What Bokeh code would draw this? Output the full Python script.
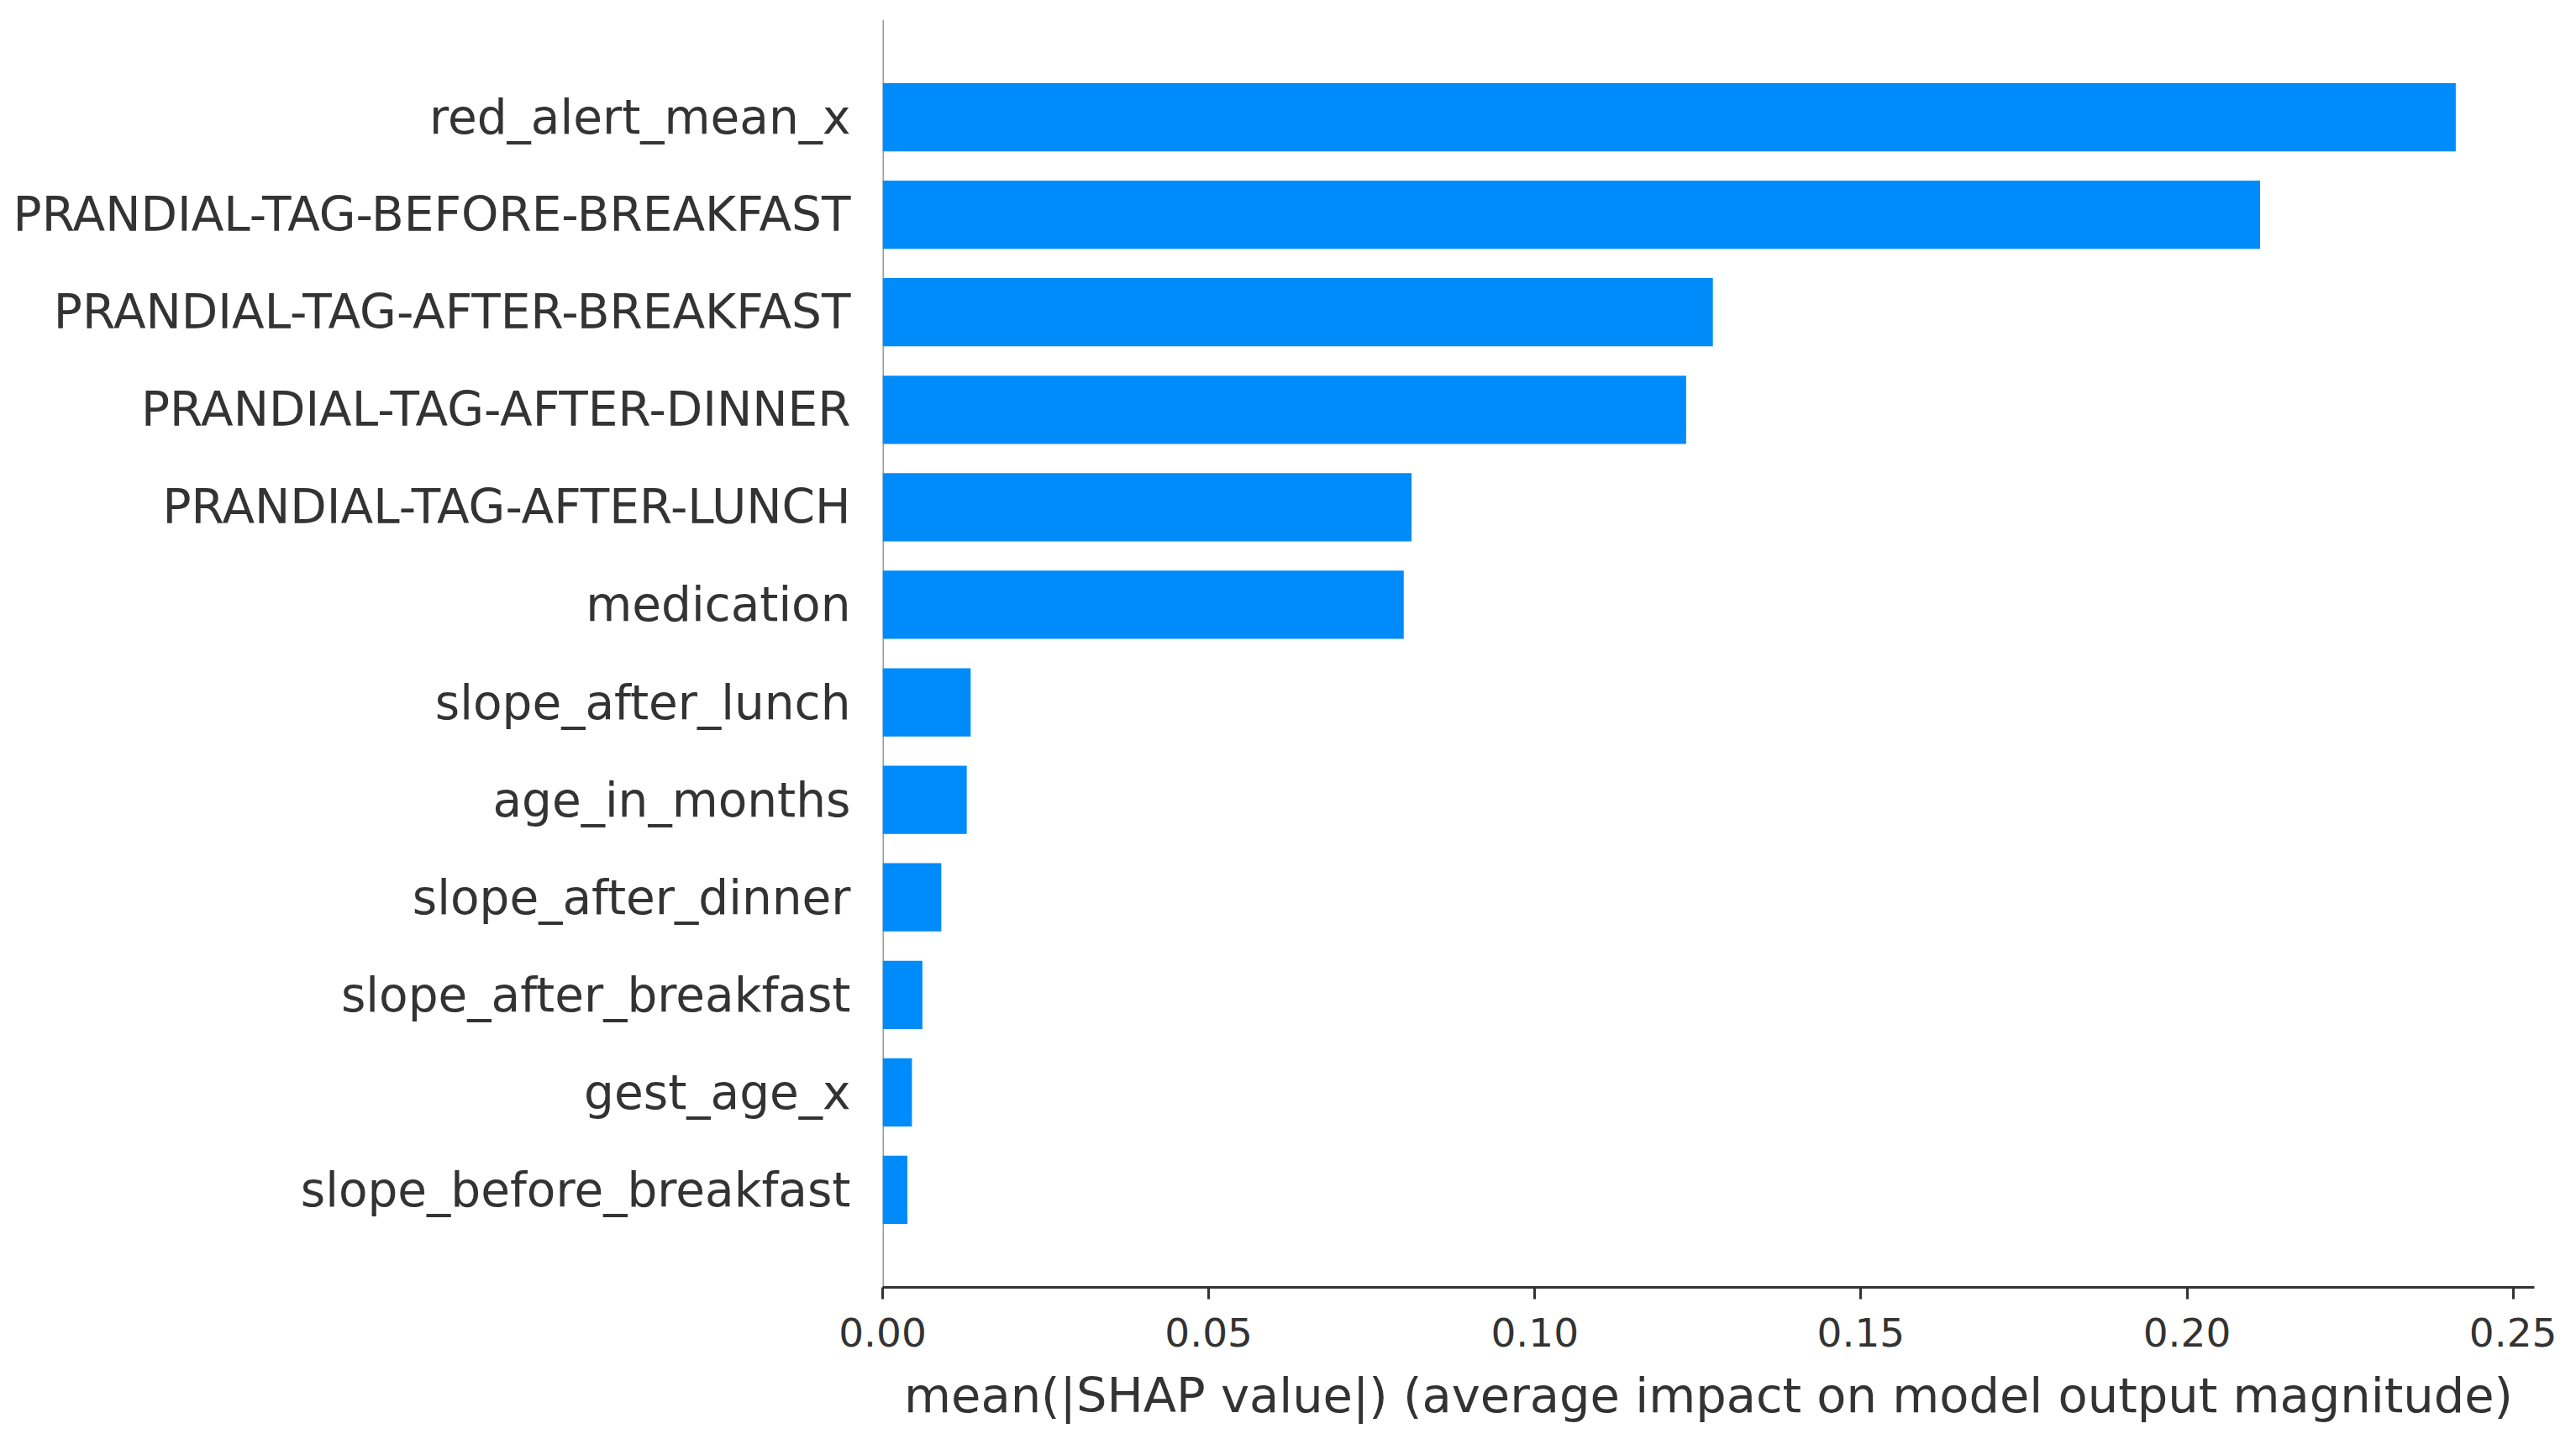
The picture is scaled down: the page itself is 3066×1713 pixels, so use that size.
from bokeh.plotting import figure
from bokeh.models import FactorRange, Range1d, FixedTicker, Span, NumeralTickFormatter
from bokeh.embed import file_html
from bokeh.resources import INLINE

# Data (top to bottom as in the chart)
features = [
    "red_alert_mean_x",
    "PRANDIAL-TAG-BEFORE-BREAKFAST",
    "PRANDIAL-TAG-AFTER-BREAKFAST",
    "PRANDIAL-TAG-AFTER-DINNER",
    "PRANDIAL-TAG-AFTER-LUNCH",
    "medication",
    "slope_after_lunch",
    "age_in_months",
    "slope_after_dinner",
    "slope_after_breakfast",
    "gest_age_x",
    "slope_before_breakfast",
]
mean_abs_shap = [
    0.2412, 0.2112, 0.1273, 0.1232, 0.0811, 0.0799,
    0.0135, 0.0129, 0.0090, 0.0061, 0.0045, 0.0038,
]
x_ticks = [0.0, 0.05, 0.10, 0.15, 0.20, 0.25]
x_label = "mean(|SHAP value|) (average impact on model output magnitude)"

FONT = "DejaVu Sans"
AXIS_COLOR = "#333333"
BAR_COLOR = "#008bfb"

factors = list(reversed(features))
y_range = FactorRange(factors=factors, range_padding=0.5, range_padding_units="absolute")
x_max = max(mean_abs_shap) * 1.05

p = figure(
    width=3050, height=1697,
    y_range=y_range, x_range=Range1d(0, x_max),
    output_backend="svg", toolbar_location=None,
    min_border_left=1050, min_border_right=34,
    min_border_top=23, min_border_bottom=164,
)
p.outline_line_color = None
p.grid.visible = False
p.background_fill_color = "white"
p.border_fill_color = "white"

p.hbar(y=features, right=mean_abs_shap, left=0, height=0.7,
       fill_color=BAR_COLOR, line_color=None)

p.add_layout(Span(location=0, dimension="height", line_color="#999999", line_width=3, level="underlay"))

# y axis
ya = p.yaxis[0]
ya.axis_line_color = None
ya.major_tick_line_color = None
ya.minor_tick_line_color = None
ya.major_label_standoff = 32
ya.major_label_text_font = FONT
ya.major_label_text_font_size = "56.5px"
ya.major_label_text_color = AXIS_COLOR

# x axis
xa = p.xaxis[0]
xa.ticker = FixedTicker(ticks=x_ticks)
xa.formatter = NumeralTickFormatter(format="0.00")
xa.minor_tick_line_color = None
xa.axis_line_color = AXIS_COLOR
xa.axis_line_width = 3
xa.major_tick_line_color = AXIS_COLOR
xa.major_tick_line_width = 3
xa.major_tick_out = 14
xa.major_tick_in = 0
xa.major_label_standoff = 22
xa.major_label_text_font = FONT
xa.major_label_text_font_size = "47px"
xa.major_label_text_color = AXIS_COLOR
xa.axis_label = x_label
xa.axis_label_text_font = FONT
xa.axis_label_text_font_size = "57.5px"
xa.axis_label_text_font_style = "normal"
xa.axis_label_text_color = AXIS_COLOR
xa.axis_label_standoff = 22

open("out.html", "w").write(file_html(p, INLINE))
